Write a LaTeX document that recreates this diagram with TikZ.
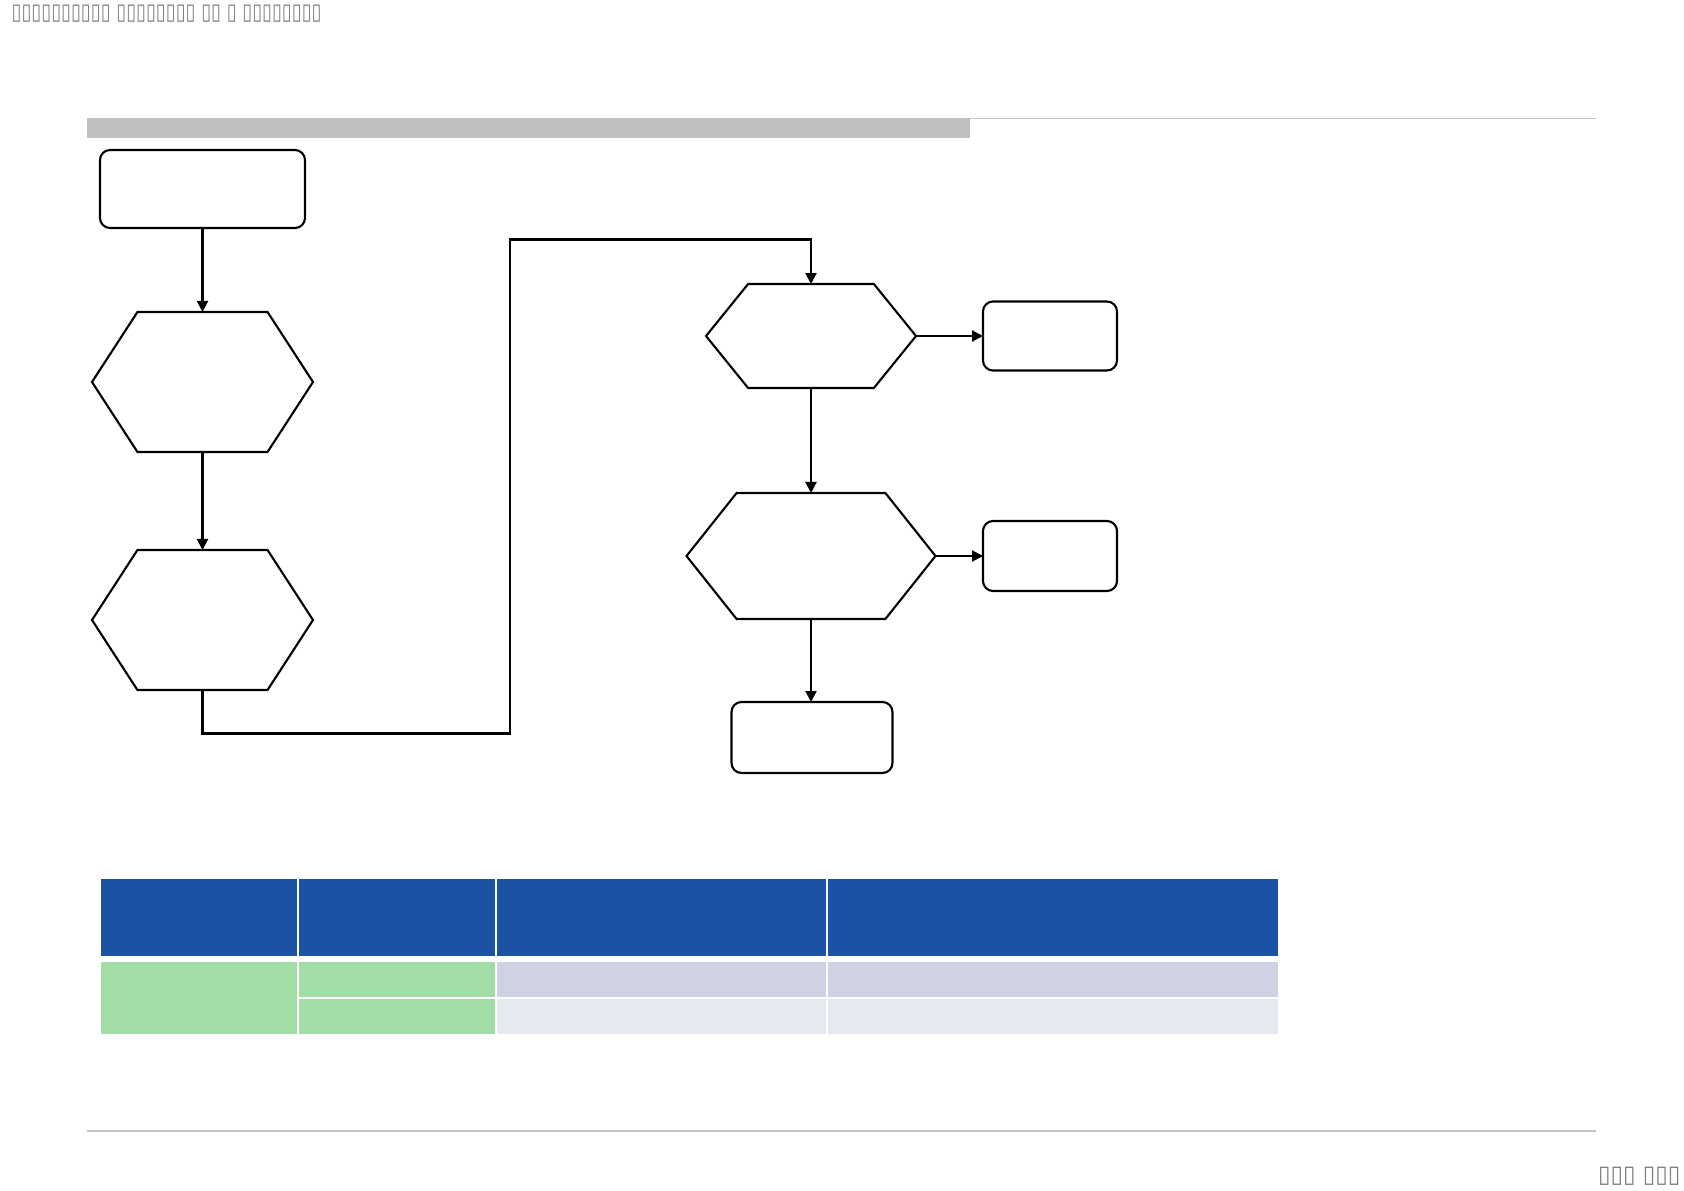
\documentclass[tikz,border=0pt]{standalone}
\usepackage{fontspec}
\usetikzlibrary{shapes.symbols,arrows.meta}
\newfontfamily\tofufont{DejaVu Sans}
\definecolor{barGray}{HTML}{BFBFBF}
\definecolor{ruleGray}{HTML}{C4C4C4}
\definecolor{capGray}{HTML}{808080}
\definecolor{headBlue}{HTML}{1B52A4}
\definecolor{rowGreen}{HTML}{A3DDA6}
\definecolor{rowLav}{HTML}{CED2E3}
\definecolor{rowPale}{HTML}{E7E9F1}
\tikzset{
  endbox/.style={draw,rounded corners=1mm,line width=0.6pt,inner sep=0pt,outer sep=0pt},
  hexbox/.style={draw,signal,signal to=west and east,line width=0.6pt,inner sep=0pt,outer sep=0pt},
  flow/.style={line width=0.6pt,-{Triangle[length=1.1mm,width=1.1mm]}}
}

\begin{document}
\begin{tikzpicture}[x=0.1mm,y=-0.1mm,line join=miter]
  \useasboundingbox (0,0) rectangle (1684,1191);
  % ---- page head and rules ----
  \node[anchor=west,inner sep=0pt,text=capGray,font=\tofufont\fontsize{6.4}{8}\selectfont] (pagehead) at (11,13.5)
    {\scalebox{0.8}[1]{▯▯▯▯▯▯▯▯▯▯ ▯▯▯▯▯▯▯▯ ▯▯ ▯ ▯▯▯▯▯▯▯▯}};
  \fill[barGray] (87,118) rectangle (970,137.5);
  \draw[ruleGray,line width=0.4pt] (970,118.5) -- (1596,118.5);
  \draw[ruleGray,line width=0.4pt] (87,1131) -- (1596,1131);
  \node[anchor=east,inner sep=0pt,text=capGray,font=\tofufont\fontsize{6.8}{8}\selectfont] (pagefoot) at (1681,1176)
    {\scalebox{0.95}[1]{▯▯▯ ▯▯▯}};

  % ---- flow chart ----
  \node[endbox,minimum width=20.5mm,minimum height=7.8mm] (start) at (202.5,189) {};
  \node[hexbox,minimum width=22.1mm,minimum height=14mm,signal pointer angle=114] (chk1) at (202.5,382) {};
  \node[hexbox,minimum width=22.1mm,minimum height=14mm,signal pointer angle=114] (chk2) at (202.5,620) {};
  \node[hexbox,minimum width=21mm,minimum height=10.4mm,signal pointer angle=102] (chk3) at (811,336) {};
  \node[endbox,minimum width=13.4mm,minimum height=6.9mm] (out1) at (1050,336) {};
  \node[hexbox,minimum width=24.9mm,minimum height=12.6mm,signal pointer angle=103] (chk4) at (811,556) {};
  \node[endbox,minimum width=13.4mm,minimum height=7mm] (out2) at (1050,556) {};
  \node[endbox,minimum width=16.1mm,minimum height=7.1mm] (out3) at (812,737.5) {};
  \coordinate (jogA) at (510,733.5);
  \coordinate (jogB) at (510,239.5);

  \draw[flow] (start) -- (chk1);
  \draw[flow] (chk1) -- (chk2);
  \draw[flow] (chk2.south) |- (jogA) -- (jogB) -| (chk3.north);
  \draw[flow] (chk3.east) -- (out1.west);
  \draw[flow] (chk3) -- (chk4);
  \draw[flow] (chk4.east) -- (out2.west);
  \draw[flow] (chk4.south) -- (chk4.south |- out3.north);

  % ---- table ----
  \foreach \xa/\xb in {101/296.5,298.5/495,496.5/826,827.5/1278}{
    \fill[headBlue] (\xa,878.5) rectangle (\xb,956);
  }
  \fill[rowGreen] (101,962) rectangle (296.5,1034);
  \fill[rowGreen] (298.5,962) rectangle (495,996.5);
  \fill[rowGreen] (298.5,999) rectangle (495,1034);
  \foreach \xa/\xb in {496.5/826,827.5/1278}{
    \fill[rowLav] (\xa,962) rectangle (\xb,996.5);
    \fill[rowPale] (\xa,999) rectangle (\xb,1034);
  }
\end{tikzpicture}
\end{document}
